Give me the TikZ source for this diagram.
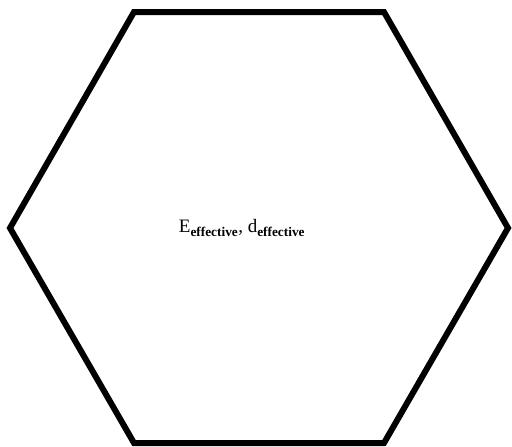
\documentclass[tikz,border=0pt]{standalone}
\usepackage{fontspec}
\setmainfont{Liberation Serif}
\usetikzlibrary{positioning}

\begin{document}
\begin{tikzpicture}[x=1pt,y=-1pt]
\useasboundingbox (0,0) rectangle (512,447);
\coordinate (tl) at (134,12);
\coordinate (tr) at (384,12);
\coordinate (r)  at (508,228);
\coordinate (br) at (384,443);
\coordinate (bl) at (134,443);
\coordinate (l)  at (10,228);
\draw[line width=6pt,line join=miter] (tl) -- (tr) -- (r) -- (br) -- (bl) -- (l) -- cycle;
\node[font=\fontsize{19}{22}\selectfont] (label) at (242,228)
    {E\textsubscript{\bfseries effective}, d\textsubscript{\bfseries effective}};
\end{tikzpicture}
\end{document}
